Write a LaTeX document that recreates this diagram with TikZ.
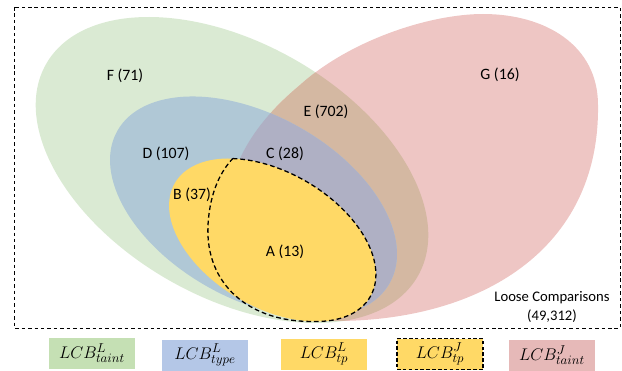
\documentclass[tikz,border=0pt]{standalone}
\usepackage{fontspec}
\setmainfont{Carlito}
\definecolor{greenF}{HTML}{DAEAD3}
\definecolor{pinkG}{HTML}{EEC6C4}
\definecolor{brownE}{HTML}{D4B8A2}
\definecolor{blueD}{HTML}{B0C8D6}
\definecolor{purpleC}{HTML}{AFB0C4}
\definecolor{yellowA}{HTML}{FFD966}
\definecolor{keyGreen}{HTML}{C5E0B4}
\definecolor{keyBlue}{HTML}{B4C7E7}
\definecolor{keyPink}{HTML}{E6B9B8}
\newcommand{\greenset}{(232,170) ellipse [x radius=214, y radius=127, rotate=-29.7]}
\newcommand{\blueset}{(253.5,207) ellipse [x radius=156, y radius=92, rotate=-29.1]}
\newcommand{\yellowset}{(272.5,240) ellipse [x radius=113, y radius=67.6, rotate=-30.2]}
\newcommand{\pinkset}{(483,14) .. controls (545,14) and (598,45) .. (598,105)
  .. controls (600,250) and (480,321) .. (335,321)
  .. controls (280,321) and (226,285) .. (226,230)
  .. controls (224,170) and (252,125) .. (300,85)
  .. controls (350,40) and (430,14) .. cycle}

\begin{document}
\begin{tikzpicture}[x=0.03cm,y=-0.03cm,
  lab/.style={font=\fontsize{13.5}{16}\selectfont},
  key/.style={minimum width=2.58cm,minimum height=0.93cm,inner sep=0pt,font=\fontsize{15}{17}\selectfont},
  keydash/.style={draw,line width=1pt,dash pattern=on 3pt off 2pt}]
  \useasboundingbox (0,0) rectangle (622,371);
  \fill[greenF] \greenset;
  \fill[pinkG] \pinkset;
  \begin{scope}
    \clip \greenset;
    \fill[brownE] \pinkset;
  \end{scope}
  \fill[blueD] \blueset;
  \begin{scope}
    \clip \blueset;
    \fill[purpleC] \pinkset;
  \end{scope}
  \fill[yellowA] \yellowset;
  \draw[line width=1.1pt,dash pattern=on 4pt off 2.5pt]
    plot[domain=-131.8:48.2,samples=60] ({272.5+97.67*cos(\x)-34.00*sin(\x)},{240+56.84*cos(\x)+58.43*sin(\x)})
    .. controls (250,322) and (205,285) .. (208,225)
    .. controls (210,190) and (222,170) .. (232.75,158.56);
  \draw[line width=0.7pt,dash pattern=on 3pt off 2.5pt] (14,7) rectangle (620,328);
  \node[lab] (regF) at (125,76) {F (71)};
  \node[lab] (regG) at (500,75) {G (16)};
  \node[lab] (regE) at (326,112) {E (702)};
  \node[lab] (regD) at (166,154) {D (107)};
  \node[lab] (regC) at (285,154) {C (28)};
  \node[lab] (regB) at (192,195) {B (37)};
  \node[lab] (regA) at (285,252) {A (13)};
  \node[align=center,font=\fontsize{12.5}{15.5}\selectfont] (loose) at (552,307) {Loose Comparisons\\(49,312)};
  \node[key,fill=keyGreen] (kTaintL) at (92,353) {$LCB^{L}_{taint}$};
  \node[key,fill=keyBlue] (kTypeL) at (205,355) {$LCB^{L}_{type}$};
  \node[key,fill=yellowA] (kTpL) at (324,354) {$LCB^{L}_{tp}$};
  \node[key,keydash,fill=yellowA] (kTpJ) at (440,354) {$LCB^{J}_{tp}$};
  \node[key,fill=keyPink] (kTaintJ) at (552,355) {$LCB^{J}_{taint}$};
\end{tikzpicture}
\end{document}
